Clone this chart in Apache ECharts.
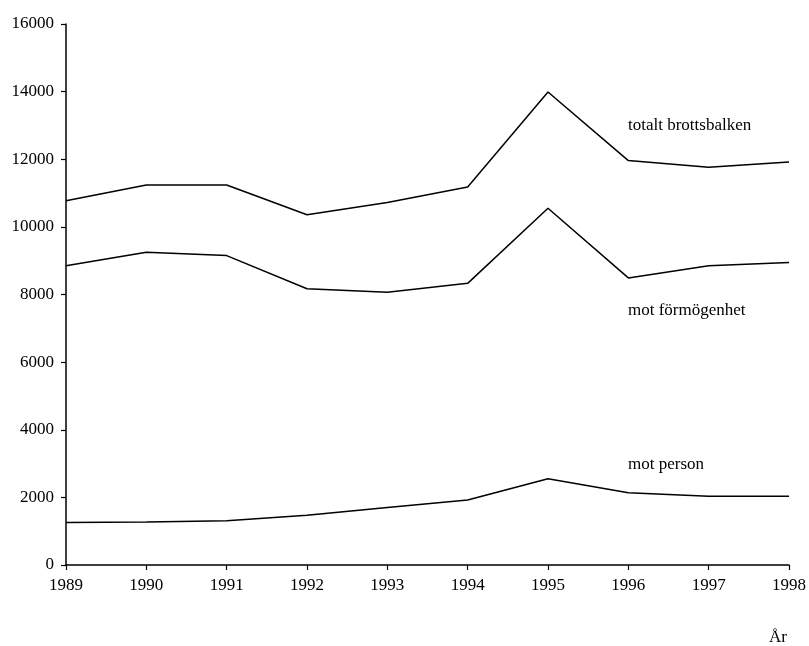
<!DOCTYPE html>
<html><head><meta charset="utf-8">
<script src="https://cdn.jsdelivr.net/npm/echarts@6/dist/echarts.min.js"></script>
<style>html,body{margin:0;padding:0;background:#fff}#c{width:809px;height:646px}</style>
</head><body><div id="c"></div>
<script>
var years = [1989, 1990, 1991, 1992, 1993, 1994, 1995, 1996, 1997, 1998];
var totalt = [10770, 11240, 11240, 10360, 10720, 11180, 13990, 11960, 11760, 11920];
var formogenhet = [8850, 9250, 9150, 8170, 8070, 8330, 10550, 8490, 8850, 8950];
var person = [1260, 1270, 1310, 1470, 1700, 1920, 2550, 2140, 2030, 2030];
var seriesNames = ['totalt brottsbalken', 'mot förmögenhet', 'mot person'];
var yTicks = [0, 2000, 4000, 6000, 8000, 10000, 12000, 14000, 16000];

var font = 'Liberation Serif';
function pairs(v){ return years.map(function(y,i){ return [y, v[i]]; }); }
var chart = echarts.init(document.getElementById('c'));
var lineStyle = {color:'#000', width:1.5};
var tfont = '17px "Liberation Serif"';
function lbl(text, x, y){
  return {type:'text', x:x, y:y, style:{text:text, fill:'#000', font:tfont, align:'left', verticalAlign:'middle'}};
}
chart.setOption({
  animation:false,
  grid:{left:66, right:20, top:24, bottom:81},
  xAxis:{type:'value', min:1989, max:1998, interval:1,
    axisLine:{lineStyle:{color:'#000', width:1.5}},
    axisTick:{show:true, length:5, lineStyle:{color:'#000', width:1.2}},
    axisLabel:{color:'#000', fontFamily:font, fontSize:17, margin:12, formatter:function(v){return String(v);}},
    splitLine:{show:false}},
  yAxis:{type:'value', min:yTicks[0], max:yTicks[yTicks.length-1], interval:2000,
    axisLine:{show:true, lineStyle:{color:'#000', width:1.5}},
    axisTick:{show:true, length:5, lineStyle:{color:'#000', width:1.2}},
    axisLabel:{color:'#000', fontFamily:font, fontSize:17, margin:12, formatter:function(v){return String(v);}},
    splitLine:{show:false}},
  series:[
    {name:seriesNames[0], type:'line', data:pairs(totalt), symbol:'none', lineStyle:lineStyle},
    {name:seriesNames[1], type:'line', data:pairs(formogenhet), symbol:'none', lineStyle:lineStyle},
    {name:seriesNames[2], type:'line', data:pairs(person), symbol:'none', lineStyle:lineStyle}
  ],
  graphic:[
    lbl(seriesNames[0], 628, 126),
    lbl(seriesNames[1], 628, 311),
    lbl(seriesNames[2], 628, 465),
    lbl('År', 769, 638)
  ]
});
</script></body></html>
